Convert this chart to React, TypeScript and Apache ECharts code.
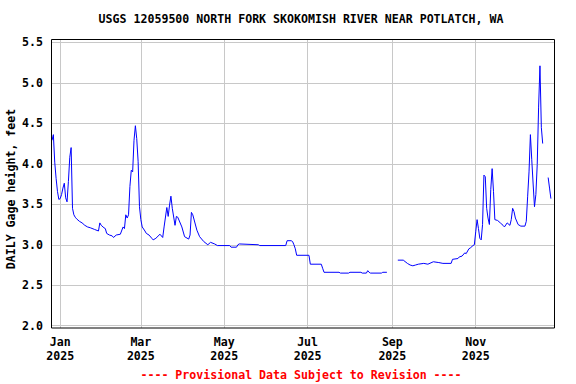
import React, { useEffect, useRef } from "react";
import * as echarts from "echarts";

const titleText = "USGS 12059500 NORTH FORK SKOKOMISH RIVER NEAR POTLATCH, WA";
const yAxisTitle = "DAILY Gage height, feet";
const footerText = "---- Provisional Data Subject to Revision ----";

const monthNames = ["Jan", "Feb", "Mar", "Apr", "May", "Jun", "Jul", "Aug", "Sep", "Oct", "Nov", "Dec"];
const xTickDates = ["2025-01-01", "2025-03-01", "2025-05-01", "2025-07-01", "2025-09-01", "2025-11-01"];
const yTickValues = [2.0, 2.5, 3.0, 3.5, 4.0, 4.5, 5.0, 5.5];
const xRange = ["2024-12-26", "2025-12-29"];
const yRange = [1.972, 5.541];

const dates = [
  "2024-12-26", "2024-12-27", "2024-12-28", "2024-12-29", "2024-12-30", "2024-12-31",
  "2025-01-01", "2025-01-02", "2025-01-03", "2025-01-04", "2025-01-05", "2025-01-06",
  "2025-01-07", "2025-01-08", "2025-01-09", "2025-01-10", "2025-01-11", "2025-01-12",
  "2025-01-13", "2025-01-15", "2025-01-17", "2025-01-19", "2025-01-21", "2025-01-23",
  "2025-01-26", "2025-01-29", "2025-01-30", "2025-01-31", "2025-02-02", "2025-02-03",
  "2025-02-04", "2025-02-06", "2025-02-08", "2025-02-09", "2025-02-11", "2025-02-14",
  "2025-02-16", "2025-02-17", "2025-02-18", "2025-02-19", "2025-02-20", "2025-02-21",
  "2025-02-22", "2025-02-23", "2025-02-24", "2025-02-25", "2025-02-26", "2025-02-27",
  "2025-02-28", "2025-03-01", "2025-03-02", "2025-03-04", "2025-03-05", "2025-03-07",
  "2025-03-09", "2025-03-10", "2025-03-12", "2025-03-15", "2025-03-17", "2025-03-18",
  "2025-03-20", "2025-03-21", "2025-03-22", "2025-03-23", "2025-03-24", "2025-03-26",
  "2025-03-27", "2025-03-28", "2025-03-31", "2025-04-02", "2025-04-05", "2025-04-06",
  "2025-04-07", "2025-04-08", "2025-04-11", "2025-04-13", "2025-04-16", "2025-04-19",
  "2025-04-21", "2025-04-24", "2025-04-26", "2025-05-05", "2025-05-06", "2025-05-10",
  "2025-05-11", "2025-05-12", "2025-05-26", "2025-05-27", "2025-06-15", "2025-06-16",
  "2025-06-19", "2025-06-20", "2025-06-21", "2025-06-22", "2025-06-23", "2025-07-02",
  "2025-07-03", "2025-07-11", "2025-07-12", "2025-07-13", "2025-07-24", "2025-07-25",
  "2025-07-31", "2025-08-01", "2025-08-09", "2025-08-10", "2025-08-13", "2025-08-14",
  "2025-08-15", "2025-08-16", "2025-08-24", "2025-08-25", "2025-08-28", "2025-09-01",
  "2025-09-05", "2025-09-09", "2025-09-12", "2025-09-14", "2025-09-16", "2025-09-18",
  "2025-09-20", "2025-09-24", "2025-09-27", "2025-10-01", "2025-10-05", "2025-10-08",
  "2025-10-14", "2025-10-15", "2025-10-19", "2025-10-20", "2025-10-22", "2025-10-24",
  "2025-10-25", "2025-10-27", "2025-10-28", "2025-10-30", "2025-10-31", "2025-11-01",
  "2025-11-02", "2025-11-03", "2025-11-04", "2025-11-05", "2025-11-06", "2025-11-07",
  "2025-11-08", "2025-11-09", "2025-11-10", "2025-11-11", "2025-11-12", "2025-11-13",
  "2025-11-14", "2025-11-15", "2025-11-17", "2025-11-19", "2025-11-21", "2025-11-22",
  "2025-11-24", "2025-11-26", "2025-11-27", "2025-11-28", "2025-11-29", "2025-11-30",
  "2025-12-02", "2025-12-04", "2025-12-07", "2025-12-08", "2025-12-09", "2025-12-10",
  "2025-12-11", "2025-12-12", "2025-12-13", "2025-12-14", "2025-12-15", "2025-12-16",
  "2025-12-17", "2025-12-18", "2025-12-19", "2025-12-20", "2025-12-22", "2025-12-24",
  "2025-12-25", "2025-12-26",
];

const gageHeight: (number | null)[] = [
  4.29, 4.36, 4.02, 3.82, 3.66, 3.56,
  3.57, 3.62, 3.70, 3.76, 3.58, 3.53,
  3.78, 4.08, 4.20, 3.45, 3.37, 3.34,
  3.32, 3.29, 3.27, 3.24, 3.22, 3.21,
  3.19, 3.17, 3.27, 3.24, 3.21, 3.20,
  3.14, 3.12, 3.11, 3.09, 3.12, 3.13,
  3.22, 3.20, 3.37, 3.33, 3.37, 3.72,
  3.92, 3.90, 4.29, 4.47, 4.31, 4.03,
  3.47, 3.31, 3.22, 3.17, 3.14, 3.12,
  3.08, 3.06, 3.08, 3.13, 3.09, 3.22,
  3.46, 3.35, 3.49, 3.60, 3.45, 3.24,
  3.35, 3.34, 3.22, 3.10, 3.07, 3.12,
  3.40, 3.37, 3.18, 3.10, 3.04, 3.00,
  3.03, 3.01, 2.99, 2.99, 2.97, 2.97,
  3.00, 3.01, 3.00, 2.99, 2.99, 3.05,
  3.05, 3.04, 3.00, 2.95, 2.87, 2.87,
  2.76, 2.76, 2.71, 2.66, 2.66, 2.65,
  2.65, 2.66, 2.66, 2.65, 2.65, 2.68,
  2.66, 2.65, 2.65, 2.66, 2.66, null,
  2.81, 2.81, 2.77, 2.75, 2.74, 2.75,
  2.76, 2.77, 2.76, 2.79, 2.78, 2.77,
  2.77, 2.82, 2.83, 2.85, 2.86, 2.90,
  2.89, 2.95, 2.96, 2.99, 3.00, 3.16,
  3.31, 3.20, 3.08, 3.06, 3.25, 3.86,
  3.84, 3.45, 3.33, 3.25, 3.68, 3.94,
  3.66, 3.31, 3.30, 3.27, 3.24, 3.22,
  3.27, 3.24, 3.31, 3.45, 3.41, 3.33,
  3.25, 3.23, 3.23, 3.29, 3.60, 3.90,
  4.36, 4.05, 3.75, 3.47, 3.62, 3.99,
  4.70, 5.21, 4.45, 4.25, null, 3.83,
  3.70, 3.57,
];

const toTime = (s: string) => new Date(s + "T00:00:00").getTime();

const FONT = "'DejaVu Sans Mono', 'Liberation Mono', monospace";

export default function App() {
  const ref = useRef<HTMLDivElement>(null);

  useEffect(() => {
    if (!ref.current) return;
    const chart = echarts.init(ref.current, null, { renderer: "svg" });
    const seriesData = dates.map((d, i) => [toTime(d), gageHeight[i] === null ? "-" : gageHeight[i]]);
    const tickTimes = xTickDates.map(toTime);

    chart.setOption({
      animation: false,
      backgroundColor: "#ffffff",
      grid: { left: 52, right: 21, top: 39, bottom: 56 },
      xAxis: {
        type: "value",
        min: toTime(xRange[0]),
        max: toTime(xRange[1]),
        axisLine: { show: false },
        axisTick: { show: false, customValues: tickTimes },
        axisLabel: {
          customValues: tickTimes,
          formatter: (v: number) => {
            const d = new Date(v);
            return monthNames[d.getMonth()] + "\n" + d.getFullYear();
          },
          fontFamily: FONT,
          fontWeight: "bold",
          fontSize: 11.6,
          lineHeight: 14,
          color: "#000",
          margin: 7,
        },
        splitLine: { show: true, lineStyle: { color: "#c8c8c8", width: 1 } },
      },
      yAxis: {
        type: "value",
        min: yRange[0],
        max: yRange[1],
        axisLine: { show: false },
        axisTick: { show: false, customValues: yTickValues },
        axisLabel: {
          customValues: yTickValues,
          formatter: (v: number) => v.toFixed(1),
          fontFamily: FONT,
          fontWeight: "bold",
          fontSize: 11.6,
          color: "#000",
          margin: 9,
        },
        splitLine: { show: true, lineStyle: { color: "#c8c8c8", width: 1 } },
      },
      series: [
        {
          type: "line",
          data: seriesData,
          showSymbol: false,
          connectNulls: false,
          lineStyle: { color: "#0000ff", width: 1 },
          itemStyle: { color: "#0000ff" },
        },
      ],
      graphic: [
        {
          type: "rect",
          shape: { x: 51.5, y: 39.5, width: 503, height: 288.5 },
          style: { fill: "none", stroke: "#000", lineWidth: 1 },
          z: 100,
        },
        {
          type: "text",
          x: 301,
          y: 19,
          style: {
            text: titleText,
            fontFamily: FONT,
            fontWeight: "bold",
            fontSize: 11.6,
            fill: "#000",
            align: "center",
            verticalAlign: "middle",
          },
        },
        {
          type: "text",
          x: 11,
          y: 189,
          rotation: Math.PI / 2,
          style: {
            text: yAxisTitle,
            fontFamily: FONT,
            fontWeight: "bold",
            fontSize: 11.6,
            fill: "#000",
            align: "center",
            verticalAlign: "middle",
          },
        },
        {
          type: "text",
          x: 301,
          y: 375,
          style: {
            text: footerText,
            fontFamily: FONT,
            fontWeight: "bold",
            fontSize: 11.6,
            fill: "#ff0000",
            align: "center",
            verticalAlign: "middle",
          },
        },
      ],
    });

    return () => chart.dispose();
  }, []);

  return (
    <div
      ref={ref}
      style={{ position: "fixed", left: 0, top: 0, width: 576, height: 384, background: "#fff" }}
    />
  );
}
